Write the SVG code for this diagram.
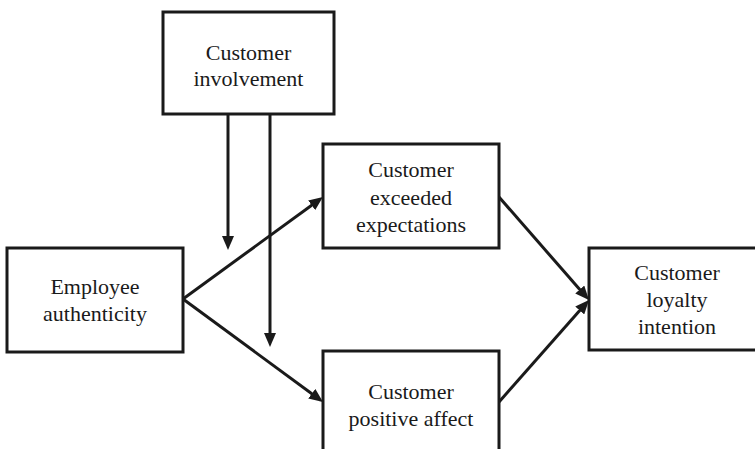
<svg xmlns="http://www.w3.org/2000/svg" width="755" height="449" viewBox="0 0 755 449">
<style>
.box{fill:#fff;stroke:#1a1a1a;stroke-width:3}
.lbl{font-family:"Liberation Serif","Times New Roman",serif;font-size:22px;fill:#1a1a1a;text-anchor:middle}
.arr{stroke:#1a1a1a;stroke-width:3;fill:none;marker-end:url(#ah)}
</style>
<defs>
<marker id="ah" markerUnits="userSpaceOnUse" markerWidth="14" markerHeight="12" refX="6" refY="6" orient="auto">
<path d="M0,0 L14,6 L0,12 z" fill="#1a1a1a"/>
</marker>
</defs>
<rect width="755" height="449" fill="#fff"/>
<g id="connectors">
<line class="arr" x1="228" y1="114" x2="228" y2="242"/>
<line class="arr" x1="270" y1="114" x2="270" y2="339"/>
<line class="arr" x1="183" y1="299" x2="316.5" y2="201.7"/>
<line class="arr" x1="183" y1="299" x2="316.6" y2="397.3"/>
<line class="arr" x1="499" y1="197" x2="583.7" y2="294"/>
<line class="arr" x1="499" y1="402" x2="583.7" y2="306"/>
</g>
<g id="involvement">
<rect class="box" x="163" y="12" width="171" height="102"/>
<text class="lbl" x="248.5" y="60">Customer</text>
<text class="lbl" x="248.5" y="86">involvement</text>
</g>
<g id="authenticity">
<rect class="box" x="7" y="248" width="176" height="104"/>
<text class="lbl" x="95" y="294">Employee</text>
<text class="lbl" x="95" y="321">authenticity</text>
</g>
<g id="expectations">
<rect class="box" x="323" y="144" width="176" height="104"/>
<text class="lbl" x="411" y="177">Customer</text>
<text class="lbl" x="411" y="204.5">exceeded</text>
<text class="lbl" x="411" y="232">expectations</text>
</g>
<g id="affect">
<rect class="box" x="323" y="351" width="176" height="110"/>
<text class="lbl" x="411" y="399">Customer</text>
<text class="lbl" x="411" y="426">positive affect</text>
</g>
<g id="loyalty">
<rect class="box" x="589" y="248" width="176" height="102"/>
<text class="lbl" x="677" y="280">Customer</text>
<text class="lbl" x="677" y="307">loyalty</text>
<text class="lbl" x="677" y="334">intention</text>
</g>
</svg>
